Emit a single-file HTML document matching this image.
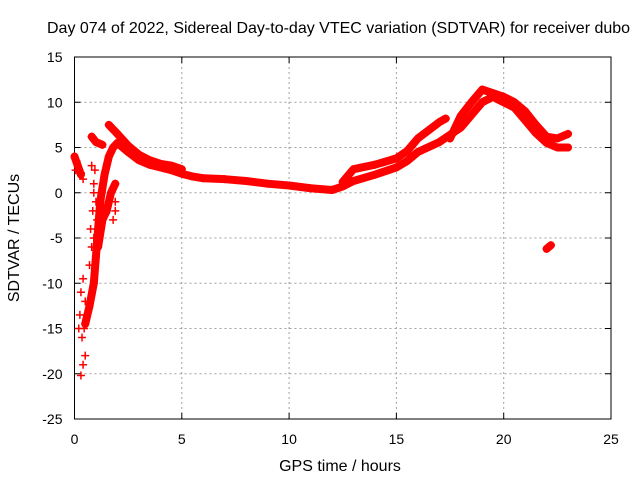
<!DOCTYPE html>
<html><head><meta charset="utf-8"><style>
body{margin:0;background:#fff}
svg{display:block;font-family:"Liberation Sans",sans-serif;font-size:14px}
.big{font-size:16px}
</style></head><body>
<svg id="chart" width="640" height="480">
<rect width="640" height="480" fill="#fff"/>
<g id="grid"></g>
<g id="axes"></g>
<g id="series"></g>
<text class="big" x="47" y="33">Day 074 of 2022, Sidereal Day-to-day VTEC variation (SDTVAR) for receiver dubo</text>
<text class="big" x="340" y="471" text-anchor="middle">GPS time / hours</text>
<text class="big" transform="translate(19,238) rotate(-90)" text-anchor="middle">SDTVAR / TECUs</text>
</svg>
<script>
const xTicks=[0,5,10,15,20,25];
const yTicks=[15,10,5,0,-5,-10,-15,-20,-25];
const trackMain=[[2.0,5.5],[2.5,4.5],[3,3.6],[3.5,3.1],[4,2.8],[4.5,2.5],[5,2.1],[5.5,1.8],[6,1.6],[7,1.5],[8,1.3],[9,1.0],[10,0.8],[11,0.5],[12,0.3],[12.5,0.7],[13,1.3],[14,2.0],[15,2.8],[15.5,3.5],[16,4.5],[17,5.6],[18,7.2],[18.5,8.6],[19,10.0],[19.5,10.6],[20,10.0],[20.5,9.4],[21,8.0],[21.5,6.6],[22,5.5],[22.5,5.0],[23,5.0]];
const trackUpper=[[1.6,7.5],[2,6.5],[2.5,5.2],[3,4.2],[3.5,3.6],[4,3.2],[4.5,3.0],[5,2.6]];
const trackRise=[[12.5,1.2],[13,2.6],[14,3.1],[15,3.8],[15.5,4.6],[16,6.0],[17,7.8],[17.3,8.2]];
const trackPeak=[[17.5,6.0],[18,8.5],[18.5,10.0],[19,11.4],[19.5,11.0],[20,10.6],[20.5,10.0],[21,9.0],[21.5,7.5],[22,6.2],[22.5,6.0],[23,6.5]];
const trackSteep=[[0.5,-14.5],[0.7,-12.5],[0.9,-10],[1.0,-7],[1.1,-4],[1.2,-1],[1.4,2],[1.6,4],[1.8,5],[2.0,5.5]];
const trackBranch=[[1.1,-6],[1.3,-3],[1.5,-2],[1.7,0],[1.9,1]];
const trackShort=[[0.8,6.2],[1.0,5.6],[1.3,5.3]];
const trackStart=[[0,4],[0.15,3],[0.3,2]];
const trackOutlier=[[22,-6.2],[22.2,-5.8]];
const tracks=[trackMain,trackUpper,trackRise,trackPeak,trackSteep,trackBranch,trackShort,trackStart,trackOutlier];
const scatterT=[0.3,0.4,0.5,0.35,0.45,0.25,0.3,0.4,0.2,0.5,0.7,0.8,0.75,0.85,0.9,0.9,0.95,0.8,1.0,1.05,0.1,0.05,0.3,0.4,0.9,1.9,1.9,1.8];
const scatterV=[-20.2,-19,-18,-16,-15,-13.5,-11,-9.5,-15,-12,-8,-6,-4,-2,0,1,2.5,3,-1,-3,3.5,2.5,2.2,1.5,-5,-2,-1,-3];
const X0=74.5,X1=611,Y0=57,Y1=419;
const sx=v=>X0+(v-0)/(25-0)*(X1-X0);
const sy=v=>Y0+(15-v)/(15+25)*(Y1-Y0);
const NS="http://www.w3.org/2000/svg";
function mk(t,a,p){const e=document.createElementNS(NS,t);for(const k in a)e.setAttribute(k,a[k]);p.appendChild(e);return e;}
const grid=document.getElementById('grid'),axes=document.getElementById('axes'),ser=document.getElementById('series');
xTicks.forEach(t=>{const x=sx(t);
 if(t>0&&t<25){const l=mk('line',{x1:x,x2:x,y1:Y0,y2:Y1,stroke:'#a0a0a0','stroke-dasharray':'2,3'},grid);}
 mk('line',{x1:x,x2:x,y1:Y1,y2:Y1-6,stroke:'#000'},axes);mk('line',{x1:x,x2:x,y1:Y0,y2:Y0+6,stroke:'#000'},axes);
 const tx=mk('text',{x:x,y:Y1+25,'text-anchor':'middle'},axes);tx.textContent=t;
 });
yTicks.forEach(t=>{const y=sy(t);
 if(t<15&&t>-25){const l=mk('line',{x1:X0,x2:X1,y1:y,y2:y,stroke:'#a0a0a0','stroke-dasharray':'2,3'},grid);}
 mk('line',{x1:X0,x2:X0+6,y1:y,y2:y,stroke:'#000'},axes);mk('line',{x1:X1,x2:X1-6,y1:y,y2:y,stroke:'#000'},axes);
 const tx=mk('text',{x:X0-12,y:y+5,'text-anchor':'end'},axes);tx.textContent=t;
 });
const fr=mk('rect',{x:X0,y:Y0,width:X1-X0,height:Y1-Y0,fill:'none',stroke:'#000'},axes);

function plus(x,y){const m=mk('path',{d:`M${x-4},${y}H${x+4}M${x},${y-4}V${y+4}`,stroke:'#f00','stroke-width':1.5},ser);
 }
tracks.forEach(tr=>{
 const pl=mk('polyline',{points:tr.map(p=>sx(p[0])+','+sy(p[1])).join(' '),fill:'none',stroke:'#f00','stroke-width':8,'stroke-linejoin':'round','stroke-linecap':'round'},ser);
 
 tr.forEach(p=>plus(sx(p[0]),sy(p[1])));
});
scatterT.forEach((t,i)=>plus(sx(t),sy(scatterV[i])));
</script>
</body></html>
